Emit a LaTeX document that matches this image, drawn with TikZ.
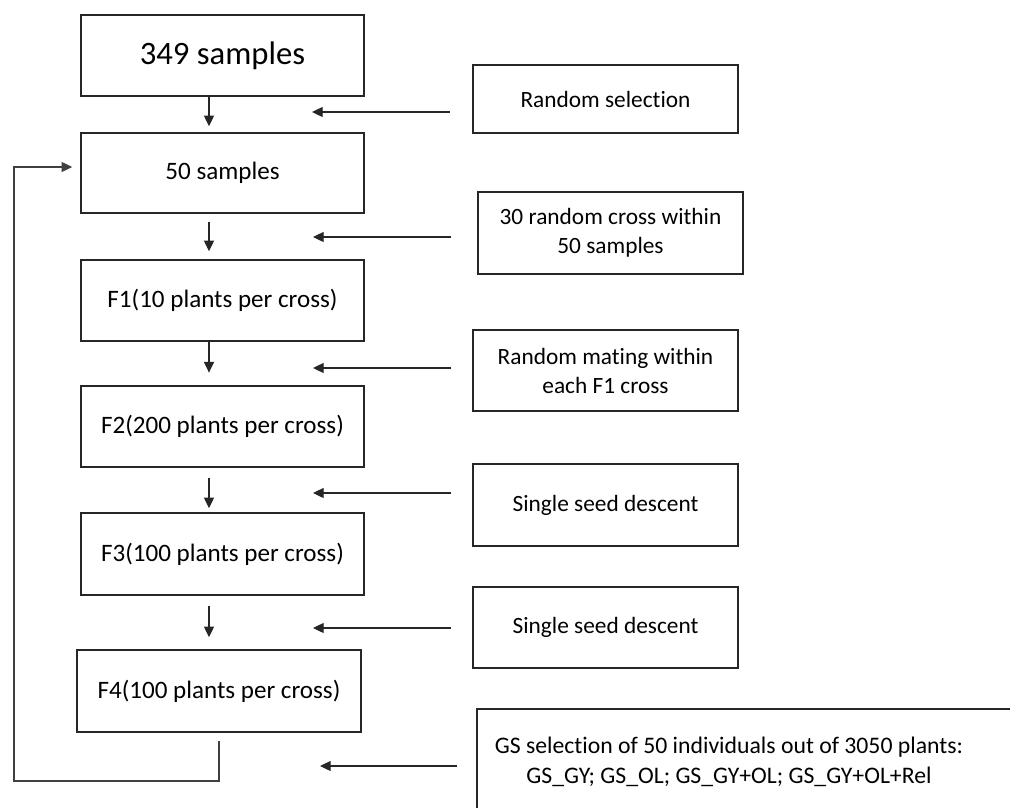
\documentclass[tikz,border=0pt]{standalone}
\usepackage{fontspec}
\setmainfont{Carlito}[Ligatures={NoCommon}]
\usetikzlibrary{arrows.meta}
\tikzset{
  sz/.style 2 args={minimum width=#1*0.75pt, minimum height=#2*0.75pt},
  box/.style={draw=black!85, line width=1.1pt, inner sep=0pt, align=center,
    font=\fontsize{18.8}{22}\selectfont},
  rbox/.style={box, font=\fontsize{17.5}{21.75}\selectfont},
  arr/.style={draw=black!85, line width=0.9pt, -{Triangle[length=8pt,width=7.5pt]}},
  loopline/.style={draw=black!75, line width=0.8pt, -{Triangle[length=8pt,width=7.5pt]}}
}
\begin{document}
\begin{tikzpicture}[x=0.75pt,y=-0.75pt]
\clip (0,0) rectangle (1010,807);
\fill[white] (0,0) rectangle (1010,807);
% left column
\node[box, sz={283}{81}, font=\fontsize{24.5}{28}\selectfont] (n349) at (222.5,55.5) {349 samples};
\node[box, sz={283}{80}] (n50) at (222.5,173) {50 samples};
\node[box, sz={283}{81}] (nf1) at (222.5,300.5) {F1(10 plants per cross)};
\node[box, sz={283}{81}] (nf2) at (222.5,426.5) {F2(200 plants per cross)};
\node[box, sz={283}{82}] (nf3) at (222.5,554) {F3(100 plants per cross)};
\node[box, sz={284}{82}] (nf4) at (219,691) {F4(100 plants per cross)};
% right column
\node[rbox, sz={265}{68}] (rs) at (605.5,99) {Random selection};
\node[rbox, sz={265}{82}] (rc) at (610.5,233) {30 random cross within\\50 samples};
\node[rbox, sz={265}{81}] (rm) at (605.5,370.5) {Random mating within\\each F1 cross};
\node[rbox, sz={265}{82}] (ss1) at (605.5,505) {Single seed descent};
\node[rbox, sz={265}{81}] (ss2) at (605.5,627.5) {Single seed descent};
\node[box, sz={563}{131}] (gs) at (758.5,774.5) {};
\node[align=center, inner sep=0pt, font=\fontsize{17.8}{22.5}\selectfont] (gstext) at (729,762)
  {GS selection of 50 individuals out of 3050 plants:\\GS\_GY; GS\_OL; GS\_GY+OL; GS\_GY+OL+Rel};
% vertical arrows
\coordinate (ax) at (209,0);
\draw[arr, shorten >=4.5pt] (n349.south -| ax) -- (n50.north -| ax);
\draw[arr, shorten <=6pt, shorten >=6pt] (n50.south -| ax) -- (nf1.north -| ax);
\draw[arr, shorten >=9.5pt] (nf1.south -| ax) -- (nf2.north -| ax);
\draw[arr, shorten <=7.5pt, shorten >=3pt] (nf2.south -| ax) -- (nf3.north -| ax);
\draw[arr, shorten <=8pt, shorten >=9pt] (nf3.south -| ax) -- (nf4.north -| ax);
% horizontal arrows
\coordinate (h1) at (312,112);
\coordinate (h2) at (313,237);
\coordinate (h3) at (313,368);
\coordinate (h4) at (313,493);
\coordinate (h5) at (313,628);
\coordinate (h6) at (320,766);
\draw[arr, shorten <=17pt] (rs.west |- h1) -- (h1);
\draw[arr, shorten <=19.5pt] (rc.west |- h2) -- (h2);
\draw[arr, shorten <=15.75pt] (rm.west |- h3) -- (h3);
\draw[arr, shorten <=15.75pt] (ss1.west |- h4) -- (h4);
\draw[arr, shorten <=15.75pt] (ss2.west |- h5) -- (h5);
\draw[arr, shorten <=14.25pt] (gs.west |- h6) -- (h6);
% feedback loop
\coordinate (lstart) at (219,741);
\coordinate (lbot) at (14,781);
\coordinate (ltop) at (14,167);
\draw[loopline, shorten >=6pt] (lstart) |- (lbot) -- (ltop) -- (n50.west |- ltop);
\end{tikzpicture}
\end{document}
